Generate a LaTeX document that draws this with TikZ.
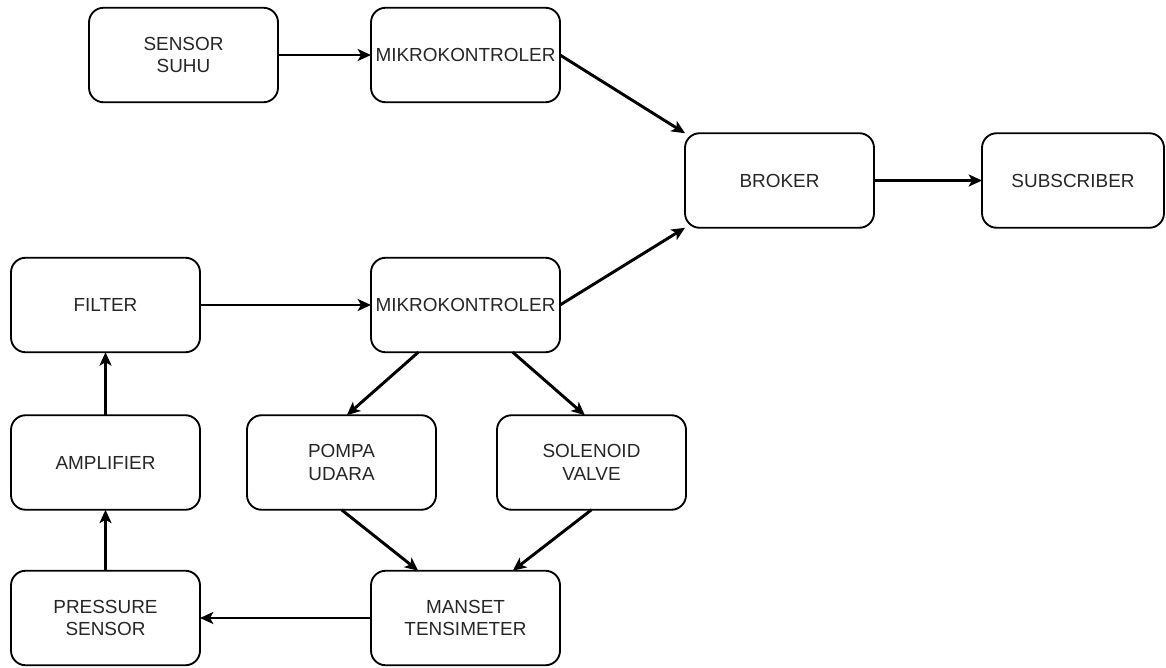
\documentclass[tikz,border=0pt]{standalone}
\usepackage{fontspec}
\setmainfont{Liberation Sans}
\usetikzlibrary{arrows.meta,calc}
\begin{document}
\begin{tikzpicture}[x=0.75pt,y=-0.75pt,
  blk/.style={draw=black,line width=1.4pt,rounded corners=11pt,fill=white,
    minimum width=141.75pt,minimum height=70.9pt,inner sep=1pt,outer sep=0pt,
    align=center,font=\fontsize{14.2}{17}\selectfont,text=black!85},
  conn/.style={line width=2.2pt,-{Stealth[length=10pt,width=9pt,inset=2.5pt]}}]
\useasboundingbox (0,0) rectangle (1166,667);
\node[blk] (suhu) at (183.5,55) {SENSOR\\SUHU};
\node[blk] (mk1) at (465.5,55) {MIKROKONTROLER};
\node[blk] (broker) at (779.5,180.5) {BROKER};
\node[blk,minimum width=136.5pt] (sub) at (1073,180.5) {SUBSCRIBER};
\node[blk] (filter) at (105.5,305) {FILTER};
\node[blk] (mk2) at (465.5,305) {MIKROKONTROLER};
\node[blk] (amp) at (105.5,462.5) {AMPLIFIER};
\node[blk] (pompa) at (341.5,462.5) {POMPA\\UDARA};
\node[blk] (sol) at (591.5,462.5) {SOLENOID\\VALVE};
\node[blk] (press) at (105.5,618) {PRESSURE\\SENSOR};
\node[blk] (manset) at (465.5,618) {MANSET\\TENSIMETER};

\draw[conn] (suhu.east) -- (mk1.west);
\draw[conn] (mk1.east) -- (broker.north west);
\draw[conn] (mk2.east) -- (broker.south west);
\draw[conn] (broker.east) -- (sub.west);
\draw[conn] (filter.east) -- (mk2.west);
\draw[conn] ($(mk2.south west)!0.25!(mk2.south east)$) -- ([xshift=4]pompa.north);
\draw[conn] ($(mk2.south west)!0.75!(mk2.south east)$) -- ([xshift=-5]sol.north);
\draw[conn] (pompa.south) -- ($(manset.north west)!0.25!(manset.north east)$);
\draw[conn] (sol.south) -- ($(manset.north west)!0.75!(manset.north east)$);
\draw[conn] (manset.west) -- (press.east);
\draw[conn] (press.north) -- (amp.south);
\draw[conn] (amp.north) -- (filter.south);
\end{tikzpicture}
\end{document}
